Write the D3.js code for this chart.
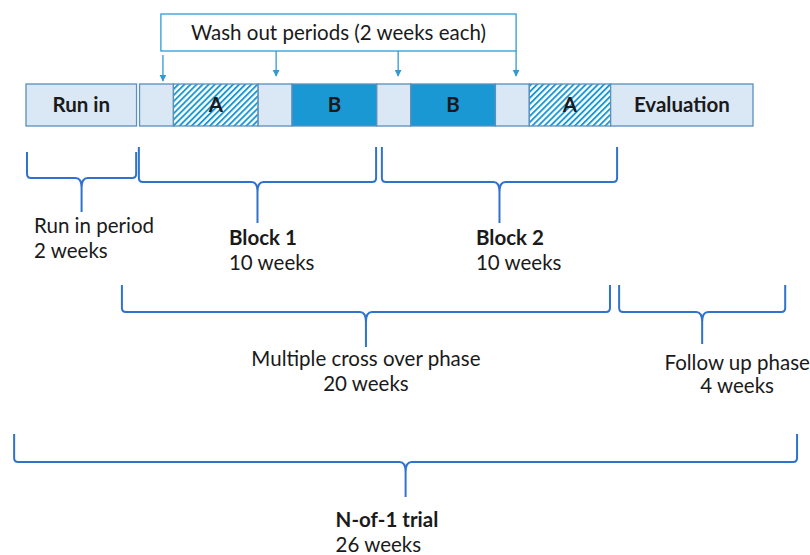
<!DOCTYPE html>
<html>
<head>
<meta charset="utf-8">
<script src="https://cdn.jsdelivr.net/npm/d3@7"></script>
<style>
  body { margin: 0; background: #fff; }
  svg { display: block; font-family: Lato, "Open Sans", sans-serif; }
</style>
</head>
<body>
<div id="vis"></div>
<script>
// Frame
const FRAME_WIDTH = 810;
const FRAME_HEIGHT = 555;

// Timeline segments (relative widths)
const SEGMENT_LABELS = ["Run in", "", "A", "", "B", "", "B", "", "A", "Evaluation"];
const SEGMENT_TYPES = ["runin", "washout", "A", "washout", "B", "washout", "B", "washout", "A", "evaluation"];
const SEGMENT_WIDTHS = [3.35, 1, 2.5, 1, 2.5, 1, 2.5, 1, 2.4, 4.2];

// Wash out callout, arrows point at these timeline positions
const WASHOUT_TITLE = "Wash out periods (2 weeks each)";
const WASHOUT_BOX = [3.98, 14.46];
const WASHOUT_ARROWS = [4.04, 7.38, 10.98, 14.46];

// Braces under the timeline
const BRACE_NAMES = ["Run in period", "Block 1", "Block 2", "Multiple cross over phase", "Follow up phase", "N-of-1 trial"];
const BRACE_WEEKS = ["2 weeks", "10 weeks", "10 weeks", "20 weeks", "4 weeks", "26 weeks"];
const BRACE_FROM = [0.03, 3.33, 10.5, 2.83, 17.5, -0.35];
const BRACE_TO = [3.25, 10.33, 17.44, 17.23, 22.4, 22.75];

// Layout of each brace (not data): vertical positions and label placement
const BRACE_LAYOUT = [
  {top: 152, mid: 178, tip: 212, anchor: "start",  dx: -47.5, y1: 233, y2: 258, bold: false},
  {top: 147, mid: 182, tip: 223, anchor: "start",  dx: -28.5, y1: 245, y2: 270, bold: true},
  {top: 147, mid: 182, tip: 223, anchor: "start",  dx: -23.5, y1: 245, y2: 270, bold: true},
  {top: 285, mid: 312, tip: 347, anchor: "middle", dx: 0,     y1: 366, y2: 391, bold: false},
  {top: 285, mid: 312, tip: 344, anchor: "middle", dx: 35,    y1: 370, y2: 393, bold: false},
  {top: 434, mid: 462, tip: 497, anchor: "start",  dx: -70,   y1: 527, y2: 552, bold: true}
];

const BAR_TOP = 84;
const BAR_HEIGHT = 42;
const FONT_SIZE = "20.5px";

const COLORS = {
  light: "#dae8f5",
  solid: "#1a98d4",
  border: "#5b8fbe",
  arrow: "#2f9ad6",
  brace: "#2f73cc",
  text: "#1a1a1a"
};

const SVG = d3.select("#vis")
  .append("svg")
    .attr("width", FRAME_WIDTH)
    .attr("height", FRAME_HEIGHT);

// x scale: timeline units to pixels
const TOTAL = d3.sum(SEGMENT_WIDTHS);
const X_SCALE = d3.scaleLinear()
  .domain([0, TOTAL])
  .range([26, 753]);

// hatch pattern for treatment A
const defs = SVG.append("defs");
const hatch = defs.append("pattern")
  .attr("id", "hatch")
  .attr("patternUnits", "userSpaceOnUse")
  .attr("width", 4.3)
  .attr("height", 10)
  .attr("patternTransform", "rotate(45)");
hatch.append("rect").attr("width", 4.3).attr("height", 10).attr("fill", "#fff");
hatch.append("rect").attr("width", 1.9).attr("height", 10).attr("fill", COLORS.solid);

// arrowhead marker (points along the line)
defs.append("marker")
  .attr("id", "arrowhead")
  .attr("viewBox", "0 0 10 10")
  .attr("refX", 9).attr("refY", 5)
  .attr("markerWidth", 7).attr("markerHeight", 7)
  .attr("markerUnits", "userSpaceOnUse")
  .attr("orient", "auto")
  .append("path")
    .attr("d", "M0,0 L10,5 L0,10 Z")
    .attr("fill", COLORS.arrow);

// segment start positions
const starts = d3.cumsum([0].concat(SEGMENT_WIDTHS.slice(0, -1)));
const segments = SEGMENT_LABELS.map((label, i) => ({
  label: label,
  type: SEGMENT_TYPES[i],
  start: starts[i],
  end: starts[i] + SEGMENT_WIDTHS[i]
}));

function segFill(d) {
  if (d.type === "A") { return "url(#hatch)"; }
  else if (d.type === "B") { return COLORS.solid; }
  else { return COLORS.light; }
}

// timeline boxes
SVG.selectAll("rect.seg")
  .data(segments)
  .enter()
  .append("rect")
    .attr("class", "seg")
    .attr("x", (d) => X_SCALE(d.start))
    .attr("y", BAR_TOP)
    .attr("width", (d) => X_SCALE(d.end) - X_SCALE(d.start) - (d.type === "runin" ? 3 : 0))
    .attr("height", BAR_HEIGHT)
    .attr("fill", segFill)
    .attr("stroke", COLORS.border)
    .attr("stroke-width", 1.3);

// timeline labels
SVG.selectAll("text.seg")
  .data(segments.filter((d) => d.label !== ""))
  .enter()
  .append("text")
    .attr("class", "seg")
    .attr("x", (d) => (X_SCALE(d.start) + X_SCALE(d.end) - (d.type === "runin" ? 3 : 0)) / 2)
    .attr("y", BAR_TOP + 28)
    .attr("text-anchor", "middle")
    .attr("font-size", FONT_SIZE)
    .attr("font-weight", "bold")
    .attr("fill", COLORS.text)
    .text((d) => d.label);

// wash out callout box
const boxX0 = X_SCALE(WASHOUT_BOX[0]);
const boxX1 = X_SCALE(WASHOUT_BOX[1]);
SVG.append("rect")
  .attr("x", boxX0)
  .attr("y", 14)
  .attr("width", boxX1 - boxX0)
  .attr("height", 37)
  .attr("fill", "#fff")
  .attr("stroke", COLORS.arrow)
  .attr("stroke-width", 1.3);

SVG.append("text")
  .attr("x", (boxX0 + boxX1) / 2)
  .attr("y", 40)
  .attr("text-anchor", "middle")
  .attr("font-size", FONT_SIZE)
  .attr("fill", COLORS.text)
  .text(WASHOUT_TITLE);

// arrows into the wash out periods
SVG.selectAll("line.arrow")
  .data(WASHOUT_ARROWS)
  .enter()
  .append("line")
    .attr("class", "arrow")
    .attr("x1", (d) => X_SCALE(d))
    .attr("x2", (d) => X_SCALE(d))
    .attr("y1", (d, i) => (i === 0 ? 55 : 51))
    .attr("y2", (d, i) => (i === 0 ? 81 : 76))
    .attr("stroke", COLORS.arrow)
    .attr("stroke-width", 1.3)
    .attr("marker-end", "url(#arrowhead)");

// curly brace path
function bracePath(x0, x1, top, mid, tip) {
  const xm = (x0 + x1) / 2;
  const r = 4;
  const tw = 6;
  const th = 10;
  const p = d3.path();
  p.moveTo(x0, top);
  p.lineTo(x0, mid - r);
  p.quadraticCurveTo(x0, mid, x0 + r, mid);
  p.lineTo(xm - tw, mid);
  p.quadraticCurveTo(xm, mid, xm, mid + th);
  p.lineTo(xm, tip);
  p.moveTo(xm, mid + th);
  p.quadraticCurveTo(xm, mid, xm + tw, mid);
  p.lineTo(x1 - r, mid);
  p.quadraticCurveTo(x1, mid, x1, mid - r);
  p.lineTo(x1, top);
  return p.toString();
}

const braces = BRACE_NAMES.map((name, i) => ({
  name: name,
  weeks: BRACE_WEEKS[i],
  from: BRACE_FROM[i],
  to: BRACE_TO[i],
  layout: BRACE_LAYOUT[i]
}));

SVG.selectAll("path.brace")
  .data(braces)
  .enter()
  .append("path")
    .attr("class", "brace")
    .attr("d", (d) => bracePath(X_SCALE(d.from), X_SCALE(d.to), d.layout.top, d.layout.mid, d.layout.tip))
    .attr("fill", "none")
    .attr("stroke", COLORS.brace)
    .attr("stroke-width", 2);

// brace labels, two lines each
const labels = SVG.selectAll("g.label")
  .data(braces)
  .enter()
  .append("g")
    .attr("class", "label");

labels.append("text")
  .attr("x", (d) => (X_SCALE(d.from) + X_SCALE(d.to)) / 2 + d.layout.dx)
  .attr("y", (d) => d.layout.y1)
  .attr("text-anchor", (d) => d.layout.anchor)
  .attr("font-size", FONT_SIZE)
  .attr("font-weight", (d) => (d.layout.bold ? "bold" : "normal"))
  .attr("fill", COLORS.text)
  .text((d) => d.name);

labels.append("text")
  .attr("x", (d) => (X_SCALE(d.from) + X_SCALE(d.to)) / 2 + d.layout.dx)
  .attr("y", (d) => d.layout.y2)
  .attr("text-anchor", (d) => d.layout.anchor)
  .attr("font-size", FONT_SIZE)
  .attr("fill", COLORS.text)
  .text((d) => d.weeks);
</script>
</body>
</html>
